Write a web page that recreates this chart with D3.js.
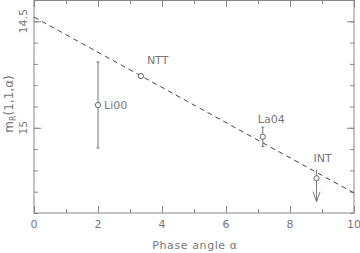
<!DOCTYPE html>
<html>
<head>
<meta charset="utf-8">
<script src="https://cdn.jsdelivr.net/npm/d3@7"></script>
<style>
  body { margin: 0; background: #fff; }
  text { font-family: "DejaVu Sans", sans-serif; fill: #777; }
</style>
</head>
<body>
<svg id="chart" width="360" height="253"></svg>
<script>
// observations: phase angle, reduced magnitude, error (down / up)
const names = ['Li00', 'NTT', 'La04', 'INT'];
const alpha = [2.0, 3.34, 7.15, 8.83];
const mag = [14.893, 14.757, 15.042, 15.237];
const errUp = [0.202, 0.008, 0.045, 0.04];
const errDown = [0.202, 0.008, 0.045, 0.11];
const upperLimit = [false, false, false, true];

// linear phase fit
const fitAlpha = [0, 10];
const fitMag = [14.48, 15.306];

const xTicks = [0, 2, 4, 6, 8, 10];
const yTicks = [14.5, 15];

const margin = {top: 0, right: 6, bottom: 40, left: 34};
const width = 360 - margin.left - margin.right;
const height = 213;

const svg = d3.select('#chart');
const g = svg.append('g').attr('transform', 'translate(' + margin.left + ',' + margin.top + ')');

const x = d3.scaleLinear().domain([0, 10]).range([0, width]);
const y = d3.scaleLinear().domain([14.4, 15.4]).range([0, height]);

const axisColor = '#888';

function styleAxis (sel) {
    sel.select('.domain').remove();
    sel.selectAll('line').style('stroke', axisColor);
}

// frame
g.append('rect')
    .attr('x', 0).attr('y', 0.5)
    .attr('width', width).attr('height', height - 0.5)
    .style('fill', 'none')
    .style('stroke', axisColor)
    .style('stroke-width', '1px');

// minor and major ticks, inward on all sides
const xMinor = d3.range(0, 10.01, 1);
const yMinor = d3.range(14.4, 15.41, 0.1);

g.append('g').attr('transform', 'translate(0,' + height + ')')
    .call(d3.axisTop(x).tickValues(xMinor).tickSize(4).tickFormat(''))
    .call(styleAxis);
g.append('g')
    .call(d3.axisBottom(x).tickValues(xMinor).tickSize(4).tickFormat(''))
    .call(styleAxis);
g.append('g').attr('transform', 'translate(0,' + height + ')')
    .call(d3.axisTop(x).tickValues(xTicks).tickSize(7).tickFormat(''))
    .call(styleAxis);
g.append('g')
    .call(d3.axisBottom(x).tickValues(xTicks).tickSize(7).tickFormat(''))
    .call(styleAxis);

g.append('g')
    .call(d3.axisRight(y).tickValues(yMinor).tickSize(4).tickFormat(''))
    .call(styleAxis);
g.append('g').attr('transform', 'translate(' + width + ',0)')
    .call(d3.axisLeft(y).tickValues(yMinor).tickSize(4).tickFormat(''))
    .call(styleAxis);
g.append('g')
    .call(d3.axisRight(y).tickValues(yTicks).tickSize(7).tickFormat(''))
    .call(styleAxis);
g.append('g').attr('transform', 'translate(' + width + ',0)')
    .call(d3.axisLeft(y).tickValues(yTicks).tickSize(7).tickFormat(''))
    .call(styleAxis);

// tick labels
g.selectAll('.xlab')
    .data(xTicks)
    .enter()
    .append('text')
    .attr('x', d => x(d))
    .attr('y', height + 15)
    .attr('text-anchor', 'middle')
    .style('font-size', '11px')
    .text(d => d);

g.selectAll('.ylab')
    .data(yTicks)
    .enter()
    .append('text')
    .attr('transform', d => 'translate(-7,' + y(d) + ') rotate(-90)')
    .attr('text-anchor', 'middle')
    .style('font-size', '11px')
    .text(d => d === 15 ? '15' : '14.5');

// axis titles
svg.append('text')
    .attr('x', margin.left + x(5) + 1)
    .attr('y', 249)
    .attr('text-anchor', 'middle')
    .style('font-size', '11px')
    .style('letter-spacing', '0.6px')
    .text('Phase angle α');

const ylab = svg.append('text')
    .attr('transform', 'translate(13,104) rotate(-90)')
    .attr('text-anchor', 'middle')
    .style('font-size', '12px');
ylab.append('tspan').text('m');
ylab.append('tspan').attr('dy', 2.5).style('font-size', '8px').text('R');
ylab.append('tspan').attr('dy', -2.5).text('(1,1,α)');

// fit line
g.append('line')
    .attr('x1', x(fitAlpha[0])).attr('y1', y(fitMag[0]))
    .attr('x2', x(fitAlpha[1])).attr('y2', y(fitMag[1]))
    .style('stroke', '#444')
    .style('stroke-width', '1px')
    .style('stroke-dasharray', '5,4');

// error bars
const pts = names.map((n, i) => ({name: n, a: alpha[i], m: mag[i], up: errUp[i], down: errDown[i], lim: upperLimit[i]}));

g.selectAll('.err')
    .data(pts)
    .enter()
    .append('line')
    .attr('x1', d => x(d.a)).attr('x2', d => x(d.a))
    .attr('y1', d => y(d.m - d.up))
    .attr('y2', d => y(d.m + d.down))
    .style('stroke', '#777')
    .style('stroke-width', '1px');

g.selectAll('.cap')
    .data(pts.filter(d => !d.lim && d.up > 0.02))
    .enter()
    .append('g')
    .each(function (d) {
        const s = d3.select(this);
        [d.m - d.up, d.m + d.down].forEach(v => {
            s.append('line')
                .attr('x1', x(d.a) - 1.5).attr('x2', x(d.a) + 1.5)
                .attr('y1', y(v)).attr('y2', y(v))
                .style('stroke', '#777');
        });
    });

// arrow for upper limit
g.selectAll('.arrow')
    .data(pts.filter(d => d.lim))
    .enter()
    .append('path')
    .attr('d', d => {
        const cx = x(d.a), cy = y(d.m + d.down);
        return 'M' + (cx - 3.5) + ',' + (cy - 10) + 'L' + cx + ',' + cy + 'L' + (cx + 3.5) + ',' + (cy - 10);
    })
    .style('fill', 'none')
    .style('stroke', '#777');

g.selectAll('.pt')
    .data(pts)
    .enter()
    .append('circle')
    .attr('cx', d => x(d.a))
    .attr('cy', d => y(d.m))
    .attr('r', 2.6)
    .style('fill', '#fff')
    .style('stroke', '#666')
    .style('stroke-width', '1px');

// labels
const labelOffset = [[6, 4], [6, -12], [-5, -14], [-3, -16]];
g.selectAll('.name')
    .data(pts)
    .enter()
    .append('text')
    .attr('x', (d, i) => x(d.a) + labelOffset[i][0])
    .attr('y', (d, i) => y(d.m) + labelOffset[i][1])
    .style('font-size', '11px')
    .text(d => d.name);
</script>
</body>
</html>
